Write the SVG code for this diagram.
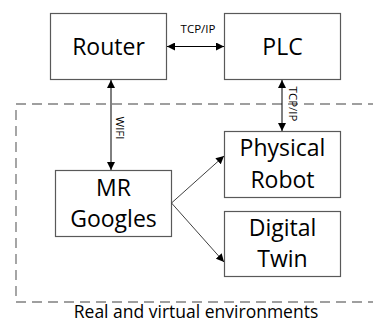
<svg xmlns="http://www.w3.org/2000/svg" width="373" height="329" viewBox="0 0 373 329">
<defs>
<marker id="ah" viewBox="0 0 10 10" refX="10" refY="5" markerWidth="8" markerHeight="8" markerUnits="userSpaceOnUse" orient="auto-start-reverse">
<path d="M0,0 L10,5 L0,10 z" fill="#000"/>
</marker>
<style>
.box{fill:#fff;stroke:#595959;stroke-width:1.2}
.lbl{font-family:"Open Sans","Liberation Sans",sans-serif;font-size:23px;fill:#000;text-anchor:middle}
.small{font-family:"Open Sans","Liberation Sans",sans-serif;font-size:11.5px;fill:#000;text-anchor:middle}
.conn{stroke:#000;stroke-width:1;fill:none}
.diag{stroke:#404040;stroke-width:1;fill:none}
</style>
</defs>
<rect x="16" y="104" width="370" height="198" fill="none" stroke="#808080" stroke-width="1.4" stroke-dasharray="10,6"/>
<g id="router"><rect class="box" x="50.5" y="13.5" width="116" height="66"/><text class="lbl" x="108.5" y="55">Router</text></g>
<g id="plc"><rect class="box" x="224.5" y="13.5" width="116" height="66"/><text class="lbl" x="282.5" y="55">PLC</text></g>
<g id="robot"><rect class="box" x="224.5" y="131.5" width="116" height="66"/><text class="lbl" x="282.5" y="156">Physical</text><text class="lbl" x="282.5" y="188">Robot</text></g>
<g id="mr"><rect class="box" x="55.5" y="170.5" width="116" height="66"/><text class="lbl" x="113.5" y="196">MR</text><text class="lbl" x="113.5" y="227">Googles</text></g>
<g id="twin"><rect class="box" x="224.5" y="211.5" width="116" height="65"/><text class="lbl" x="282.5" y="236">Digital</text><text class="lbl" x="282.5" y="267">Twin</text></g>
<g id="connectors">
<line class="conn" x1="167" y1="46.5" x2="224" y2="46.5" marker-start="url(#ah)" marker-end="url(#ah)"/>
<text class="small" x="198" y="33">TCP/IP</text>
<line class="conn" x1="111" y1="80" x2="111" y2="170" marker-start="url(#ah)" marker-end="url(#ah)"/>
<text class="small" transform="translate(115.5,128) rotate(90)">WIFI</text>
<line class="conn" x1="282" y1="80" x2="282" y2="131" marker-start="url(#ah)" marker-end="url(#ah)"/>
<text class="small" transform="translate(288.5,104) rotate(90)">TCP/IP</text>
<line class="diag" x1="171.5" y1="203" x2="224" y2="156" marker-end="url(#ah)"/>
<line class="diag" x1="171.5" y1="203" x2="224" y2="262" marker-end="url(#ah)"/>
</g>
<text x="196" y="318" font-family="Open Sans, Liberation Sans, sans-serif" font-size="17.5" text-anchor="middle" fill="#000">Real and virtual environments</text>
</svg>
